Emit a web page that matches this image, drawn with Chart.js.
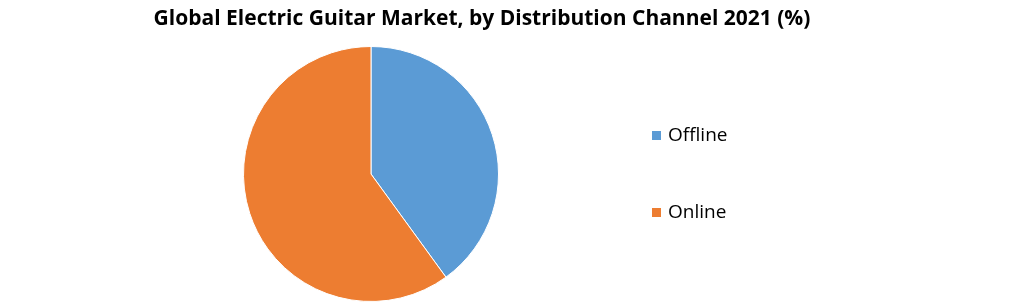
<!DOCTYPE html>
<html>
<head>
<meta charset="utf-8">
<script src="https://cdn.jsdelivr.net/npm/chart.js@4"></script>
<style>
  html, body { margin: 0; padding: 0; background: #fff; }
  #wrap { width: 1021px; height: 304px; position: relative; }
</style>
</head>
<body>
<div id="wrap"><canvas id="chart" width="1021" height="304"></canvas></div>
<script>
// Data
const chartTitle = 'Global Electric Guitar Market, by Distribution Channel 2021 (%)';
const channels = ['Offline', 'Online'];
const shares = [40, 60];
const sliceColors = ['#5B9BD5', '#ED7D31'];

// Title + legend drawn by hand so they sit where the original has them
const sideDecor = {
    id: 'sideDecor',
    afterDraw(chart) {
        const ctx = chart.ctx;
        ctx.save();
        ctx.fillStyle = '#000';
        ctx.textBaseline = 'middle';
        ctx.textAlign = 'center';
        ctx.font = 'bold 21px "Open Sans", sans-serif';
        ctx.fillText(chartTitle, 482, 19);

        ctx.textAlign = 'left';
        ctx.font = '19px "Open Sans", sans-serif';
        const labels = chart.data.labels;
        const colors = chart.data.datasets[0].backgroundColor;
        labels.forEach((lbl, i) => {
            const y = 135 + i * 77;
            ctx.fillStyle = colors[i];
            ctx.fillRect(652, y - 4, 9, 9);
            ctx.fillStyle = '#000';
            ctx.fillText(lbl, 668, y + 1);
        });
        ctx.restore();
    }
};

new Chart(document.getElementById('chart'), {
    type: 'pie',
    data: {
        labels: channels,
        datasets: [{
            data: shares,
            backgroundColor: sliceColors,
            borderColor: '#fff',
            borderWidth: 1,
        }]
    },
    options: {
        responsive: false,
        animation: false,
        layout: { padding: { left: 243, right: 522, top: 46, bottom: 2 } },
        plugins: {
            legend: { display: false },
            title: { display: false },
            tooltip: { enabled: false }
        }
    },
    plugins: [sideDecor]
});
</script>
</body>
</html>
